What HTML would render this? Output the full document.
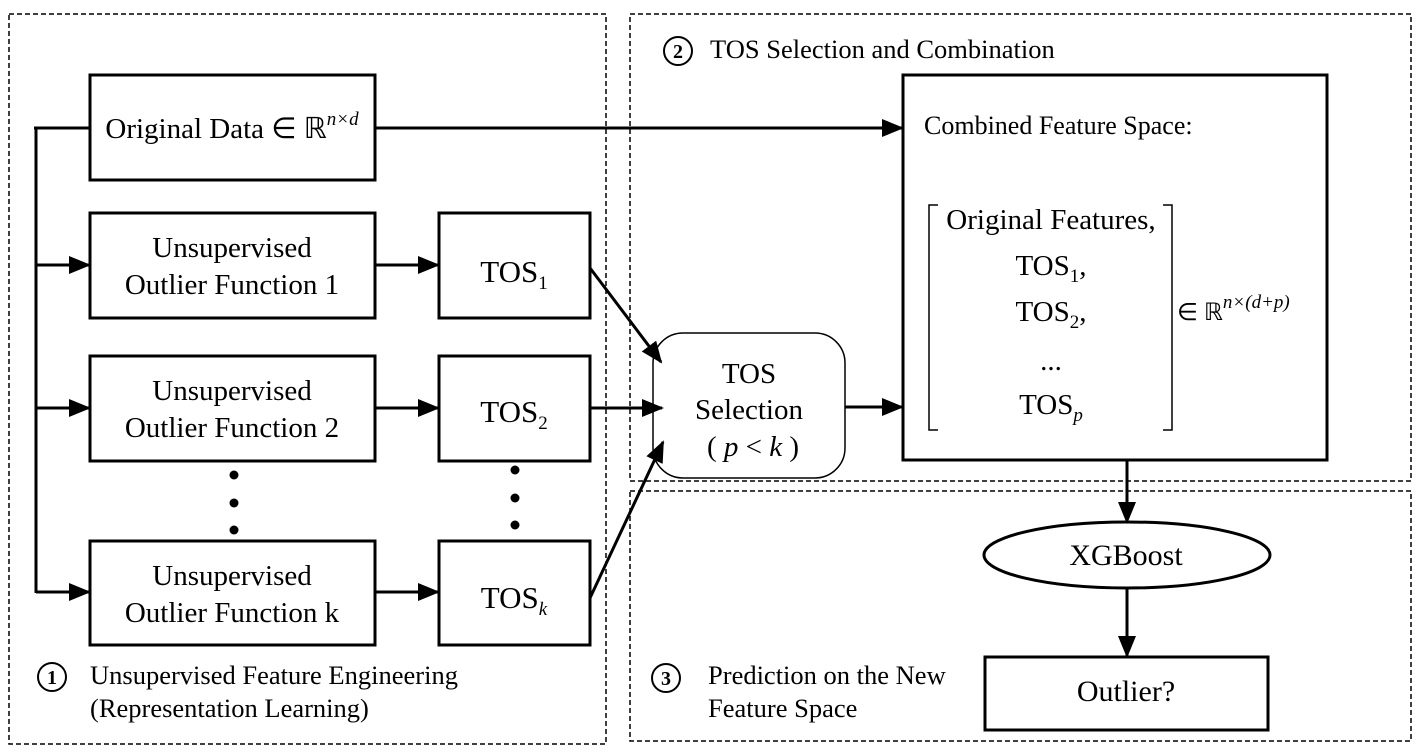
<!DOCTYPE html>
<html><head><style>body{margin:0;background:#fff}svg{display:block}text{font-family:"Liberation Serif",serif;fill:#000}</style></head>
<body>
<svg width="1423" height="755" viewBox="0 0 1423 755" xmlns="http://www.w3.org/2000/svg">
<defs>
<marker id="b" markerWidth="22" markerHeight="18" refX="20" refY="9" orient="auto" markerUnits="userSpaceOnUse"><path d="M0,0 L22,9 L0,18z"/></marker></defs>
<g fill="none" stroke="#000" stroke-width="1.5" stroke-dasharray="5,3">
<rect x="9" y="14" width="597" height="730"/>
<rect x="630" y="14" width="781" height="467"/>
<rect x="630" y="491" width="781" height="250"/>
</g>
<g fill="none" stroke="#000" stroke-width="3">
<rect x="90" y="75" width="285" height="105"/>
<rect x="90" y="213" width="285" height="105"/>
<rect x="90" y="356" width="285" height="105"/>
<rect x="90" y="541" width="285" height="104"/>
<rect x="439" y="213" width="151" height="105"/>
<rect x="439" y="356" width="151" height="105"/>
<rect x="439" y="541" width="151" height="104"/>
<rect x="903" y="75" width="424" height="385"/>
<rect x="985" y="657" width="283" height="73"/>
</g>
<rect x="653" y="333" width="192" height="145" rx="30" fill="none" stroke="#000" stroke-width="1.5"/>
<ellipse cx="1127" cy="555" rx="143" ry="33" fill="none" stroke="#000" stroke-width="3"/>
<g stroke="#000" stroke-width="3" fill="none" marker-end="url(#b)">
<line x1="36" y1="265" x2="89" y2="265"/>
<line x1="36" y1="408" x2="89" y2="408"/>
<line x1="36" y1="592" x2="89" y2="592"/>
<line x1="375" y1="128" x2="902" y2="128"/>
<line x1="375" y1="265" x2="438" y2="265"/>
<line x1="375" y1="408" x2="438" y2="408"/>
<line x1="375" y1="592" x2="438" y2="592"/>
<line x1="590" y1="268" x2="661" y2="362"/>
<line x1="590" y1="408" x2="662" y2="408"/>
<line x1="590" y1="598" x2="663" y2="442"/>
<line x1="845" y1="407" x2="902" y2="407"/>
<line x1="1127" y1="460" x2="1127" y2="522"/>
<line x1="1127" y1="588" x2="1127" y2="656"/>
</g>
<g stroke="#000" stroke-width="3"><line x1="36" y1="128" x2="36" y2="593"/><line x1="34" y1="128" x2="90" y2="128"/></g>
<g fill="#000"><circle cx="234" cy="475" r="4.5"/><circle cx="234" cy="503" r="4.5"/><circle cx="234" cy="530" r="4.5"/>
<circle cx="515" cy="470" r="4.5"/><circle cx="515" cy="498" r="4.5"/><circle cx="515" cy="525" r="4.5"/></g>
<g font-size="29" text-anchor="middle">
<text x="232" y="138">Original Data ∈ ℝ<tspan font-style="italic" font-size="19" dy="-13">n×d</tspan></text>
<text x="232" y="257">Unsupervised</text><text x="232" y="294">Outlier Function 1</text>
<text x="232" y="400">Unsupervised</text><text x="232" y="437">Outlier Function 2</text>
<text x="232" y="585">Unsupervised</text><text x="232" y="622">Outlier Function k</text>
<text x="514" y="282" font-size="31">TOS<tspan font-size="19" dy="7">1</tspan></text>
<text x="514" y="422" font-size="31">TOS<tspan font-size="19" dy="7">2</tspan></text>
<text x="514" y="608" font-size="31">TOS<tspan font-size="19" dy="7" font-style="italic">k</tspan></text>
<text x="749" y="383">TOS</text><text x="749" y="419">Selection</text>
<text x="753" y="456">( <tspan font-style="italic">p</tspan> &lt; <tspan font-style="italic">k</tspan>  )</text>
<text x="1126" y="565" font-size="30">XGBoost</text>
<text x="1126" y="701" font-size="30">Outlier?</text>
<text x="1051" y="229">Original Features,</text>
<text x="1051" y="275">TOS<tspan font-size="19" dy="7">1</tspan><tspan dy="-7">,</tspan></text>
<text x="1051" y="321">TOS<tspan font-size="19" dy="7">2</tspan><tspan dy="-7">,</tspan></text>
<text x="1051" y="370">...</text>
<text x="1051" y="414">TOS<tspan font-size="19" dy="7" font-style="italic">p</tspan></text>
</g>
<text x="924" y="134" font-size="26">Combined Feature Space:</text>
<text x="1177" y="320" font-size="24">∈ ℝ<tspan font-size="19" font-style="italic" dy="-12">n×(d+p)</tspan></text>
<g fill="none" stroke="#000" stroke-width="1.5">
<path d="M938,205 H929 V430 H938"/><path d="M1163,205 H1172 V430 H1163"/>
</g>
<g font-size="26.5">
<text x="710" y="58">TOS Selection and Combination</text>
<text x="90" y="684">Unsupervised Feature Engineering</text>
<text x="90" y="717">(Representation Learning)</text>
<text x="708" y="684">Prediction on the New</text>
<text x="708" y="717">Feature Space</text>
</g>
<g fill="none" stroke="#000" stroke-width="2"><circle cx="678" cy="51" r="14"/><circle cx="52" cy="677" r="14"/><circle cx="666" cy="678" r="14"/></g>
<g font-size="20" font-weight="bold" text-anchor="middle">
<text x="678" y="58">2</text><text x="52" y="684">1</text><text x="666" y="685">3</text></g>
</svg>
</body></html>
